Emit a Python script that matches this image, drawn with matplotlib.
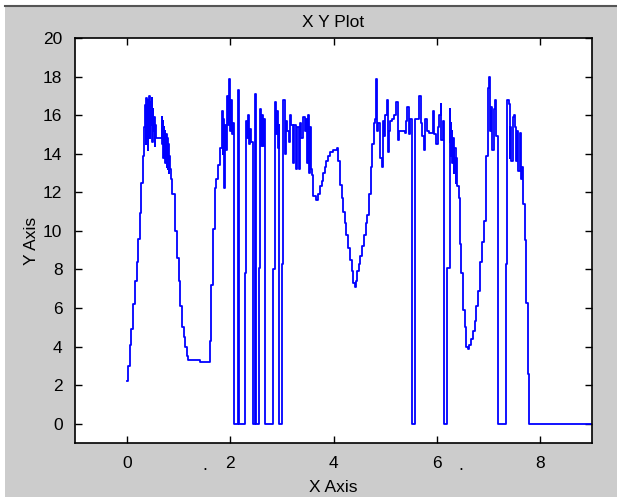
import matplotlib
matplotlib.use("Agg")
import matplotlib.pyplot as plt
from matplotlib.patches import Rectangle

t = [0.00, 0.03, 0.06, 0.09, 0.12, 0.16, 0.19, 0.22, 0.25, 0.28, 0.31, 0.34,
     0.36, 0.37, 0.38, 0.39, 0.40, 0.41, 0.42, 0.43, 0.44, 0.45, 0.46, 0.47,
     0.48, 0.49, 0.50, 0.51, 0.52, 0.54, 0.55, 0.57, 0.68, 0.69, 0.70, 0.71,
     0.72, 0.73, 0.74, 0.75, 0.76, 0.77, 0.78, 0.79, 0.80, 0.81, 0.82, 0.84,
     0.86, 0.88, 0.93, 0.97, 1.01, 1.04, 1.07, 1.10, 1.13, 1.16, 1.19, 1.42,
     1.61, 1.64, 1.67, 1.70, 1.73, 1.77, 1.80, 1.84, 1.86, 1.87, 1.88, 1.89,
     1.90, 1.92, 1.94, 1.96, 1.97, 1.99, 2.01, 2.03, 2.05,
     2.08, 2.15, 2.18, 2.28, 2.31, 2.33, 2.35, 2.37, 2.39, 2.41,
     2.44, 2.48, 2.50, 2.55, 2.57, 2.59, 2.61, 2.63, 2.65,
     2.67, 2.83, 2.86, 2.88, 2.90, 2.92, 2.94,
     2.95, 3.00, 3.03, 3.06, 3.08, 3.10, 3.13, 3.15, 3.18, 3.22, 3.24, 3.28,
     3.30, 3.33, 3.35, 3.38, 3.41, 3.44, 3.47, 3.49, 3.51, 3.53, 3.55, 3.57,
     3.59, 3.61, 3.67, 3.70, 3.73, 3.77, 3.80, 3.83, 3.86, 3.90, 3.93, 3.99,
     4.06, 4.09, 4.12, 4.16, 4.19, 4.22, 4.25, 4.29, 4.32, 4.35, 4.38, 4.41,
     4.43, 4.46, 4.49, 4.52, 4.56, 4.59, 4.62, 4.65, 4.69, 4.72, 4.75, 4.78,
     4.81, 4.82, 4.85, 4.87, 4.90, 4.93, 4.95, 4.98, 5.00, 5.03, 5.05, 5.07,
     5.09, 5.13, 5.17, 5.21, 5.24, 5.26, 5.32, 5.38, 5.40, 5.43, 5.46, 5.48,
     5.51, 5.58, 5.61, 5.66, 5.69, 5.72, 5.75, 5.77, 5.81, 5.84, 5.88, 5.92,
     5.95, 5.98, 6.02, 6.04, 6.07, 6.08, 6.11,
     6.13, 6.19, 6.25, 6.26, 6.27, 6.28, 6.29, 6.30, 6.32, 6.33, 6.34, 6.36,
     6.37, 6.39, 6.42, 6.44, 6.47, 6.50, 6.55, 6.57, 6.60, 6.63, 6.66, 6.70,
     6.73, 6.76, 6.79, 6.83, 6.87, 6.92, 6.95, 6.98, 7.01, 7.02, 7.05, 7.07,
     7.10, 7.13, 7.15,
     7.18, 7.33, 7.35, 7.39, 7.41, 7.42, 7.44, 7.47, 7.49, 7.51, 7.53, 7.55,
     7.57, 7.60, 7.62, 7.63, 7.64, 7.66, 7.70, 7.73, 7.77, 7.79, 9.00]
y = [2.2, 3.0, 4.1, 4.9, 6.2, 7.4, 8.4, 9.6, 10.9, 12.5, 13.9, 15.4,
     16.5, 14.5, 16.9, 15.0, 16.6, 14.2, 16.8, 15.2, 17.0, 14.8, 16.7, 15.5,
     16.9, 14.6, 16.3, 15.2, 15.9, 14.4, 15.5, 14.8, 15.9, 14.5, 15.7, 13.8,
     15.4, 14.2, 15.2, 13.5, 15.0, 13.3, 14.8, 13.2, 14.5, 13.0, 13.9, 13.2,
     12.7, 11.9, 10.0, 8.6, 7.4, 6.1, 5.0, 4.5, 4.0, 3.5, 3.3, 3.2,
     4.3, 7.2, 10.1, 12.2, 12.7, 13.4, 14.3, 16.2, 14.0, 15.8, 13.0, 12.2,
     15.5, 14.2, 17.0, 15.5, 17.9, 15.2, 16.8, 15.0, 15.6,
     0, 17.3, 0, 7.8, 15.7, 14.8, 16.0, 14.5, 15.3, 14.6,
     0, 17.1, 0, 8.1, 16.3, 14.4, 16.0, 14.4, 15.8,
     0, 8.0, 16.7, 15.0, 16.2, 14.3, 15.5,
     0, 8.3, 16.8, 14.0, 15.7, 15.2, 14.6, 16.0, 15.5, 13.5, 15.5, 13.2,
     15.4, 13.2, 15.6, 14.8, 15.9, 15.2, 15.8, 13.5, 16.0, 13.0, 15.4, 13.2,
     12.9, 11.8, 11.6, 11.9, 12.3, 12.6, 13.0, 13.3, 13.6, 13.9, 14.1, 14.2,
     14.3, 13.6, 12.4, 11.7, 11.0, 10.4, 9.8, 9.1, 8.5, 7.9, 7.3, 7.1,
     7.4, 7.9, 8.3, 8.7, 9.2, 9.8, 10.4, 10.8, 11.9, 13.3, 14.5, 15.6,
     15.8, 17.9, 15.2, 15.6, 13.8, 13.3, 15.7, 14.9, 16.0, 16.8, 14.1, 15.2,
     15.7, 15.8, 16.0, 16.7, 14.7, 15.2, 15.2, 15.1, 15.7, 16.4, 15.0, 15.8,
     0, 15.8, 15.8, 17.0, 15.6, 14.9, 14.2, 15.8, 15.2, 15.1, 15.1, 16.2,
     15.0, 14.5, 15.4, 16.0, 16.6, 14.7, 15.7,
     0, 8.1, 16.3, 14.6, 15.6, 13.9, 15.2, 13.5, 14.8, 13.0, 14.3, 12.5,
     13.8, 12.3, 11.7, 9.3, 7.8, 5.9, 5.0, 4.0, 3.85, 4.1, 4.4, 4.8,
     5.3, 6.1, 6.9, 8.4, 9.4, 10.5, 13.9, 17.4, 18.0, 15.2, 16.4, 14.2,
     16.3, 16.8, 14.9,
     0, 8.3, 16.8, 16.6, 13.8, 15.4, 13.6, 15.9, 16.0, 15.4, 13.6, 15.2,
     13.1, 15.1, 12.9, 12.7, 13.3, 11.4, 9.5, 6.25, 2.6, 0, 0]

x_ticks = [0, 2, 4, 6, 8]
y_ticks = list(range(0, 21, 2))

plt.rcParams['font.family'] = ['Liberation Sans', 'DejaVu Sans']

fig = plt.figure(figsize=(6.17, 4.97), dpi=100, facecolor='white')
# grey window panel with a dark top edge
fig.patches.append(Rectangle((5 / 617, 0), 1, 1 - 5 / 497, transform=fig.transFigure,
                             facecolor='#cccccc', edgecolor='none', zorder=-10))
fig.add_artist(plt.Line2D([5 / 617, 1], [1 - 6 / 497, 1 - 6 / 497], color='#555555',
                          lw=1.5, transform=fig.transFigure, zorder=-5))

ax = fig.add_axes([75 / 617, 1 - 443 / 497, 517 / 617, 405 / 497])
ax.set_facecolor('white')
ax.plot(t, y, color='#0000ff', lw=1.3, drawstyle='steps-post')

ax.set_xlim(-1, 9)
ax.set_ylim(-1, 20)
ax.set_xticks(x_ticks)
ax.set_yticks(y_ticks)
ax.tick_params(direction='in', top=True, right=True, length=5, width=1,
               labelsize=12.5, colors='black', pad=9)
for s in ax.spines.values():
    s.set_linewidth(1.2)

ax.set_title('X Y Plot', fontsize=12.5, pad=8)
ax.set_xlabel('X Axis', fontsize=12.5, labelpad=7)
ax.set_ylabel('Y Axis', fontsize=12.5, labelpad=3)

# stray dots next to some tick labels
fig.text(205 / 617, 1 - 470 / 497, '.', fontsize=13, ha='center')
fig.text(461 / 617, 1 - 470 / 497, '.', fontsize=13, ha='center')

fig.savefig('out.png', dpi=100, facecolor=fig.get_facecolor())
